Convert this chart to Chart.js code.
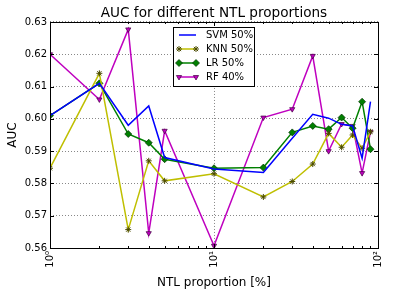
<!DOCTYPE html>
<html>
<head>
<meta charset="utf-8">
<script src="https://cdn.jsdelivr.net/npm/chart.js@4.4.0/dist/chart.umd.min.js"></script>
<style>
  html, body { margin: 0; padding: 0; background: #fff; }
  #wrap { width: 395px; height: 296px; }
</style>
</head>
<body>
<div id="wrap"><canvas id="canvas"></canvas></div>
<script>
// NTL proportion in percent
var proportions = [1, 2, 3, 4, 5, 10, 20, 30, 40, 50, 60, 70, 80, 90];

var svm = [0.601, 0.611, 0.598, 0.604, 0.588, 0.5845, 0.5834, 0.594, 0.6014, 0.6002, 0.5983, 0.5978, 0.5878, 0.6053];
var knn = [0.5847, 0.6141, 0.5657, 0.587, 0.5808, 0.583, 0.5758, 0.5806, 0.586, 0.5955, 0.5912, 0.595, 0.5909, 0.596];
var lr  = [0.601, 0.611, 0.5953, 0.5926, 0.5875, 0.5847, 0.5849, 0.5958, 0.5978, 0.5968, 0.6004, 0.5971, 0.6053, 0.5906];
var rf  = [0.620, 0.606, 0.6277, 0.5646, 0.5963, 0.5607, 0.6004, 0.603, 0.6195, 0.590, 0.5984, 0.5978, 0.5832, 0.596];

var xTicks = [1, 10, 100];
var xTickLabels = ['10\u2070', '10\u00b9', '10\u00b2'];
var yMin = 0.56, yMax = 0.63;

var FONT = 'DejaVu Sans';

function points(values) {
  return values.map(function(v, i) {
    return { x: proportions[i], y: v };
  });
}

// frame, inward ticks and legend box like matplotlib
var framePlugin = {
  id: 'frame',
  afterDraw: function(chart) {
    var ctx = chart.ctx;
    var a = chart.chartArea;
    var xs = chart.scales.x, ys = chart.scales.y;
    ctx.save();
    ctx.strokeStyle = '#000';
    ctx.lineWidth = 1;
    ctx.strokeRect(Math.round(a.left) + 0.5, Math.round(a.top) + 0.5,
                   Math.round(a.right - a.left), Math.round(a.bottom - a.top));
    ctx.beginPath();
    // x ticks (major + minor)
    for (var d = 1; d < 100; d *= 10) {
      for (var m = 1; m <= 10; m++) {
        var px = Math.round(xs.getPixelForValue(d * m)) + 0.5;
        var len = (m == 1 || m == 10) ? 4 : 2;
        ctx.moveTo(px, a.bottom); ctx.lineTo(px, a.bottom - len);
        ctx.moveTo(px, a.top); ctx.lineTo(px, a.top + len);
      }
    }
    // y ticks
    for (var k = 0; k <= 7; k++) {
      var py = Math.round(ys.getPixelForValue(yMin + k * 0.01)) + 0.5;
      ctx.moveTo(a.left, py); ctx.lineTo(a.left + 4, py);
      ctx.moveTo(a.right, py); ctx.lineTo(a.right - 4, py);
    }
    ctx.stroke();

    // legend
    var lx = 173.5, ly = 27.5, lw = 81, lh = 59;
    ctx.fillStyle = '#fff';
    ctx.fillRect(lx, ly, lw, lh);
    ctx.strokeStyle = '#000';
    ctx.lineWidth = 1;
    ctx.strokeRect(lx, ly, lw, lh);
    ctx.font = '10px "' + FONT + '"';
    ctx.textBaseline = 'middle';
    ctx.textAlign = 'left';
    chart.data.datasets.forEach(function(ds, i) {
      var y = 35 + i * 14;
      ctx.strokeStyle = ds.borderColor;
      ctx.lineWidth = 1.5;
      ctx.beginPath();
      ctx.moveTo(179, y); ctx.lineTo(196, y);
      ctx.stroke();
      if (ds.pointRadius > 0) {
        [179, 196].forEach(function(x) {
          ctx.fillStyle = ds.pointBackgroundColor;
          ctx.strokeStyle = ds.pointBorderColor;
          ctx.lineWidth = ds.pointBorderWidth;
          Chart.helpers.drawPoint(ctx, {
            pointStyle: ds.pointStyle,
            radius: ds.pointRadius,
            rotation: ds.pointRotation || 0,
            borderWidth: ds.pointBorderWidth
          }, x, y);
        });
      }
      ctx.fillStyle = '#000';
      ctx.fillText(ds.label, 206, y + 0.5);
    });
    ctx.restore();
  }
};

var ctx = document.getElementById('canvas').getContext('2d');
var myChart = new Chart(ctx, {
  type: 'line',
  data: {
    datasets: [{
      label: 'SVM 50%',
      data: points(svm),
      borderColor: '#0000ff',
      backgroundColor: '#0000ff',
      borderWidth: 1.5,
      pointRadius: 0,
      pointStyle: 'circle'
    },
    {
      label: 'KNN 50%',
      data: points(knn),
      borderColor: '#bfbf00',
      backgroundColor: '#bfbf00',
      borderWidth: 1.5,
      pointStyle: 'star',
      pointRadius: 3,
      pointBackgroundColor: '#bfbf00',
      pointBorderColor: '#4a4a00',
      pointBorderWidth: 1
    },
    {
      label: 'LR 50%',
      data: points(lr),
      borderColor: '#008000',
      backgroundColor: '#008000',
      borderWidth: 1.5,
      pointStyle: 'rectRot',
      pointRadius: 3.5,
      pointBackgroundColor: '#008000',
      pointBorderColor: '#003000',
      pointBorderWidth: 0.7
    },
    {
      label: 'RF 40%',
      data: points(rf),
      borderColor: '#bf00bf',
      backgroundColor: '#bf00bf',
      borderWidth: 1.5,
      pointStyle: 'triangle',
      pointRotation: 180,
      pointRadius: 3,
      pointBackgroundColor: '#bf00bf',
      pointBorderColor: '#400040',
      pointBorderWidth: 0.7
    }]
  },
  options: {
    responsive: true,
    maintainAspectRatio: false,
    animation: false,
    elements: { line: { tension: 0 } },
    layout: { padding: { left: 0, right: 17, top: 0, bottom: 0 } },
    plugins: {
      legend: { display: false },
      tooltip: { enabled: false },
      title: {
        display: true,
        fullSize: false,
        text: 'AUC for different NTL proportions',
        color: '#000',
        font: { family: FONT, size: 13.6, weight: 'normal', lineHeight: 1.1 },
        padding: { top: 6, bottom: 1 }
      }
    },
    scales: {
      x: {
        type: 'logarithmic',
        min: 1,
        max: 100,
        afterBuildTicks: function(scale) {
          scale.ticks = xTicks.map(function(v) { return { value: v }; });
        },
        afterFit: function(scale) { scale.height = 48; },
        ticks: {
          autoSkip: false,
          minRotation: 90,
          maxRotation: 90,
          padding: 3,
          color: '#000',
          font: { family: FONT, size: 10 },
          callback: function(v) {
            var i = xTicks.indexOf(v);
            return i >= 0 ? xTickLabels[i] : '';
          }
        },
        grid: {
          color: '#888',
          lineWidth: 1,
          drawTicks: false,
          tickLength: 0
        },
        border: { display: false, dash: [1, 2] },
        title: {
          display: true,
          text: 'NTL proportion [%]',
          color: '#000',
          font: { family: FONT, size: 12 },
          padding: { top: 0, bottom: 6 }
        }
      },
      y: {
        min: yMin,
        max: yMax,
        afterFit: function(scale) { scale.width = 50; },
        ticks: {
          stepSize: 0.01,
          padding: 3,
          color: '#000',
          font: { family: FONT, size: 10 },
          callback: function(v) { return v.toFixed(2); }
        },
        grid: {
          color: '#888',
          lineWidth: 1,
          drawTicks: false,
          tickLength: 0
        },
        border: { display: false, dash: [1, 2] },
        title: {
          display: true,
          text: 'AUC',
          color: '#000',
          font: { family: FONT, size: 12 },
          padding: { top: 6, bottom: 0 }
        }
      }
    }
  },
  plugins: [framePlugin]
});
</script>
</body>
</html>
